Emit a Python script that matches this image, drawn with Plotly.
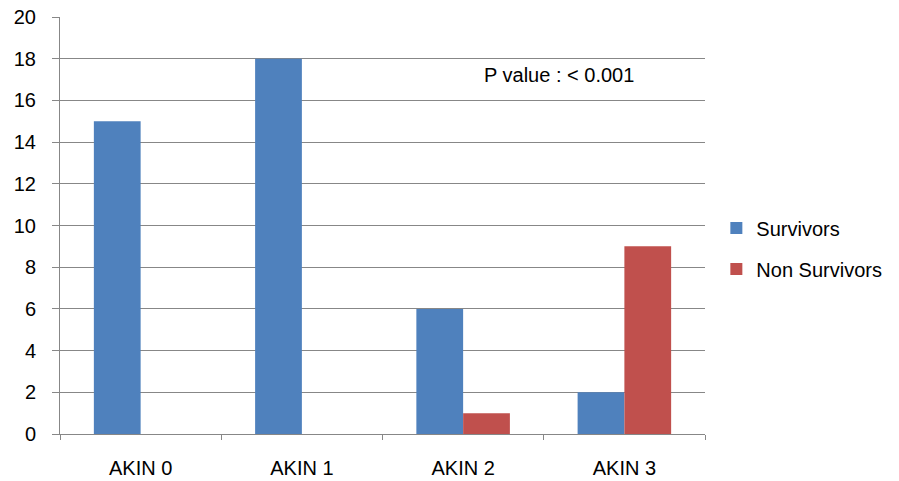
import plotly.graph_objects as go

# Patient counts per AKIN stage
categories = ["AKIN 0", "AKIN 1", "AKIN 2", "AKIN 3"]
survivors = [15, 18, 6, 2]
non_survivors = [0, 0, 1, 9]
y_ticks = list(range(0, 21, 2))

grid = "#878787"
font_family = "Liberation Sans, Arial, sans-serif"
fs = 20

fig = go.Figure()
fig.add_trace(go.Bar(x=categories, y=survivors, name="Survivors",
                     marker=dict(color="#4F81BD", line=dict(width=0)),
                     legendgroup="a"))
fig.add_trace(go.Bar(x=categories, y=non_survivors, name="Non Survivors",
                     marker=dict(color="#C0504D", line=dict(width=0)),
                     legendgroup="b"))

fig.update_layout(
    width=899, height=481,
    margin=dict(l=60, r=192, t=17, b=47),
    paper_bgcolor="white", plot_bgcolor="white",
    barmode="group", bargap=0.42, bargroupgap=0,
    font=dict(family=font_family, size=fs, color="black"),
    showlegend=True,
    legend=dict(x=1.0176, xanchor="left", y=0.445, yanchor="middle",
                traceorder="grouped", tracegroupgap=12,
                font=dict(size=fs), itemwidth=30,
                bgcolor="rgba(0,0,0,0)"),
    xaxis=dict(
        showgrid=False, showline=True, linecolor=grid, linewidth=1,
        ticks="outside", tickson="boundaries", ticklen=5, tickcolor=grid,
        tickwidth=1, ticklabelstandoff=16, tickfont=dict(size=fs),
        automargin=False,
    ),
    yaxis=dict(
        range=[0, 20], tickvals=y_ticks, showgrid=True, gridcolor=grid,
        gridwidth=1, zeroline=False, showline=True, linecolor=grid,
        linewidth=1, ticks="outside", ticklen=7, tickcolor=grid,
        tickwidth=1, ticklabelstandoff=12, tickfont=dict(size=fs),
        automargin=False,
    ),
    annotations=[dict(
        text="P value : < 0.001", x=0.774, y=17.2, xref="paper", yref="y",
        xanchor="center", yanchor="middle", showarrow=False,
        font=dict(size=fs),
    )],
)

fig.write_html("out.html")
